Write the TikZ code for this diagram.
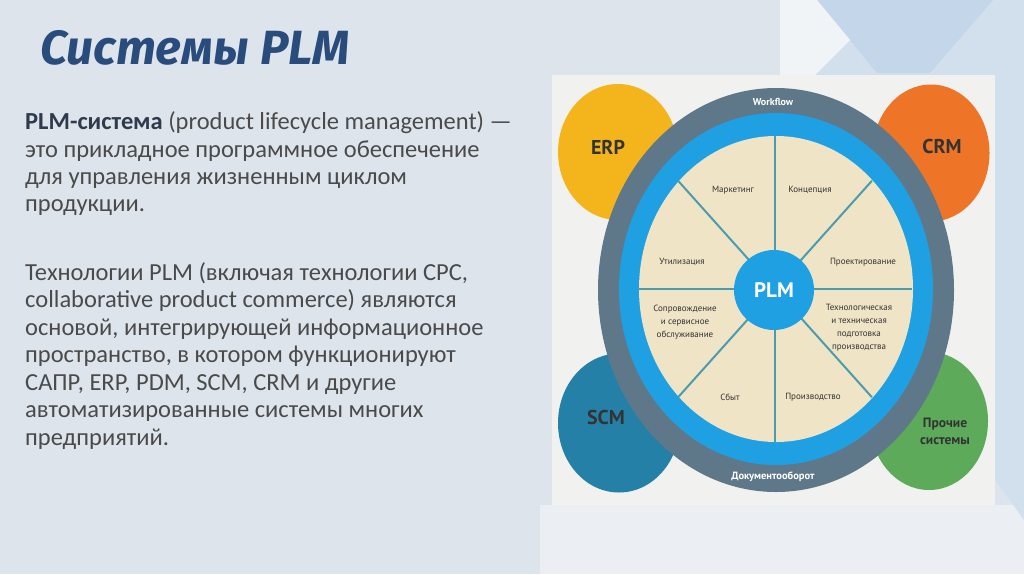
\documentclass[tikz,border=0pt]{standalone}
\usepackage{fontspec}
\setmainfont{Carlito}
\newfontfamily\titlefont{Fira Sans}
\newfontfamily\dfont{PT Sans}
\usetikzlibrary{shapes.geometric,calc}
\definecolor{bgc}{HTML}{DDE4EC}
\definecolor{panelc}{HTML}{F1F1EF}
\definecolor{deco}{HTML}{C3D6EA}
\definecolor{deco2}{HTML}{D2E0EE}
\definecolor{titlec}{HTML}{2A4C7C}
\definecolor{bodyc}{HTML}{4A4A4A}
\definecolor{boldc}{HTML}{2E3B4C}
\definecolor{erpc}{HTML}{F3B51B}
\definecolor{crmc}{HTML}{EE7427}
\definecolor{scmc}{HTML}{2580A8}
\definecolor{othc}{HTML}{5CAA5A}
\definecolor{greyring}{HTML}{5E7889}
\definecolor{bluering}{HTML}{1FA0E3}
\definecolor{beige}{HTML}{F0E4C6}
\definecolor{divc}{HTML}{4B9DAE}
\definecolor{labc}{HTML}{333333}
\begin{document}
\begin{tikzpicture}[x=1pt,y=-1pt,
  bodyline/.style={anchor=base west, inner sep=0pt, text=bodyc, font=\fontsize{24.5}{27}\selectfont},
  sys/.style={ellipse, inner sep=0pt},
  syslab/.style={inner sep=0pt, text=labc, font=\dfont\bfseries\fontsize{20}{22}\selectfont},
  seclab/.style={inner sep=0pt, align=center, text=labc, font=\dfont\fontsize{9}{13}\selectfont},
  ringlab/.style={inner sep=0pt, text=white, font=\dfont\bfseries\fontsize{10}{12}\selectfont},
  divider/.style={draw=divc, line width=2pt}]
\useasboundingbox (0,0) rectangle (1024,574);
% background
\fill[bgc] (0,0) rectangle (1024,574);
\fill[bgc!60!white] (540,505) rectangle (1024,574);
\fill[deco2] (780,0) -- (1024,0) -- (1024,520) -- (995,480) -- (995,75) -- (780,75) -- cycle;
\fill[deco] (817,0) -- (993,0) -- (930,73) -- (877,73) -- cycle;
\fill[bgc!40!white] (780,0) -- (817,0) -- (850,40) -- (815,75) -- (780,75) -- cycle;
\fill[panelc] (552,75) rectangle (995,505);
% title
\node[anchor=base west, inner sep=0pt, text=titlec, font=\titlefont\bfseries\itshape\fontsize{48}{50}\selectfont] (title) at (40,64) {Системы PLM};
% body text
\node[bodyline] (l1) at (25,129) {\textcolor{boldc}{\bfseries PLM-система} (product lifecycle management) —};
\node[bodyline] (l2) at (25,157) {это прикладное программное обеспечение};
\node[bodyline] (l3) at (25,184) {для управления жизненным циклом};
\node[bodyline] (l4) at (25,211) {продукции.};
\node[bodyline] (l5) at (25,280) {Технологии PLM (включая технологии CPC,};
\node[bodyline] (l6) at (25,307.5) {collaborative product commerce) являются};
\node[bodyline] (l7) at (25,335) {основой, интегрирующей информационное};
\node[bodyline] (l8) at (25,362.5) {пространство, в котором функционируют};
\node[bodyline] (l9) at (25,390) {САПР, ERP, PDM, SCM, CRM и другие};
\node[bodyline] (l10) at (25,417.5) {автоматизированные системы многих};
\node[bodyline] (l11) at (25,445) {предприятий.};
% satellite systems
\node[sys, fill=erpc, minimum width=120pt, minimum height=136pt] (erp) at (618,152) {};
\node[sys, fill=crmc, minimum width=117pt, minimum height=137pt] (crm) at (931,153) {};
\node[sys, fill=scmc, minimum width=122pt, minimum height=139pt] (scm) at (619,423) {};
\node[sys, fill=othc, minimum width=118pt, minimum height=138pt] (oth) at (929,421) {};
\node[syslab] at (608,147) {ERP};
\node[syslab] at (942,146) {CRM};
\node[syslab] at (606,417) {SCM};
\node[syslab, align=center, font=\dfont\bfseries\fontsize{13.5}{17}\selectfont] at (945,431) {Прочие\\системы};
% rings
\node[sys, fill=greyring, minimum width=356pt, minimum height=404pt] (ring) at (776,290) {};
\node[sys, fill=bluering, minimum width=314pt, minimum height=352pt] (blue) at (776,289) {};
\node[sys, fill=beige, minimum width=274pt, minimum height=306pt] (core) at (776,289) {};
% dividers
\coordinate (c) at (775,289);
\foreach \a in {0,45,...,315} {
  \draw[divider] (c) -- ($(c)+({137*cos(\a)},{-153*sin(\a)})$);
}
\node[circle, fill=bluering, minimum size=80pt, inner sep=0pt, text=white, font=\dfont\bfseries\fontsize{21}{23}\selectfont] (plm) at (774,290) {PLM};
% sector labels
\node[seclab] (s1) at (733,190) {Маркетинг};
\node[seclab] (s2) at (810,190) {Концепция};
\node[seclab] (s3) at (682,262) {Утилизация};
\node[seclab] (s4) at (863,262) {Проектирование};
\node[seclab] (s5) at (685,322) {Сопровождение\\и сервисное\\обслуживание};
\node[seclab] (s6) at (859,328) {Технологическая\\и техническая\\подготовка\\производства};
\node[seclab] (s7) at (730,397) {Сбыт};
\node[seclab] (s8) at (813,397) {Производство};
\node[ringlab] (wf) at (773,102) {Workflow};
\node[ringlab, font=\dfont\bfseries\fontsize{10.5}{12}\selectfont] (doc) at (773,477) {Документооборот};
\end{tikzpicture}
\end{document}
